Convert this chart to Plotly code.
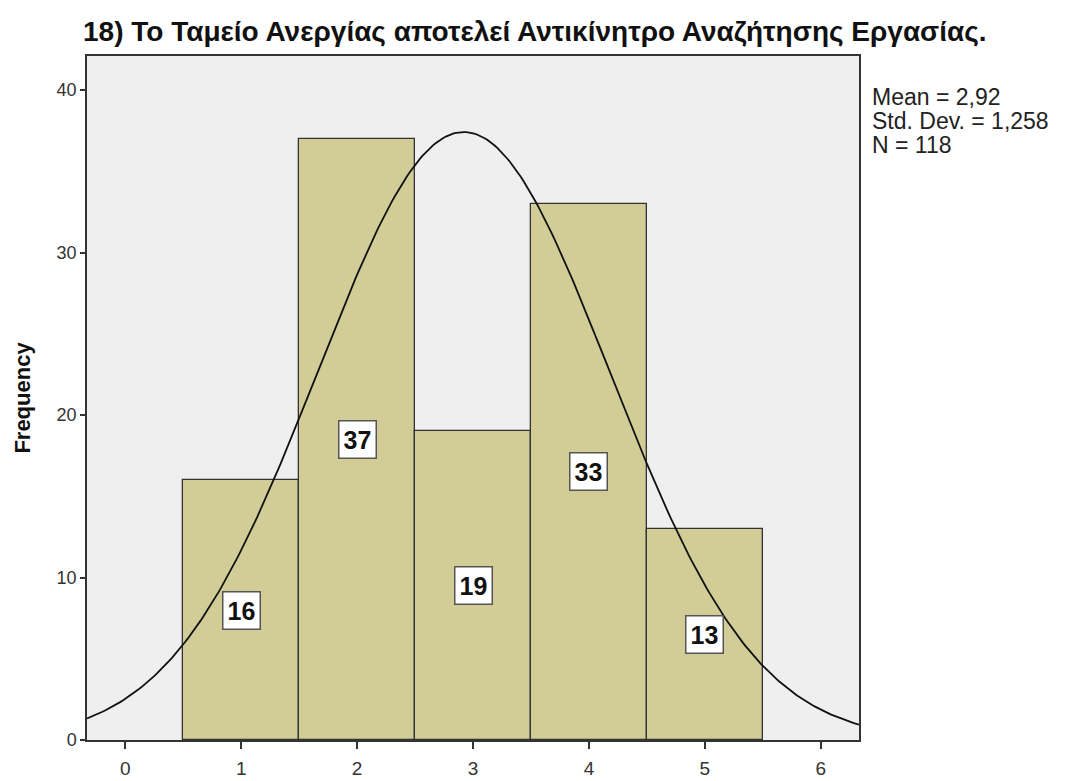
import numpy as np
import plotly.graph_objects as go

# ---------------------------------------------------------------------------
# Data
# ---------------------------------------------------------------------------
categories = [1, 2, 3, 4, 5]
frequencies = [16, 37, 19, 33, 13]

stat_mean = 2.92
stat_sd = 1.258
stat_n = 118

title_text = '18) Το Ταμείο Ανεργίας αποτελεί Αντικίνητρο Αναζήτησης Εργασίας.'
stats_lines = ['Mean = 2,92', 'Std. Dev. = 1,258', 'N = 118']

# normal curve from the printed stats (bin width 1)
curve_x = np.linspace(-0.33, 6.33, 300)
curve_y = stat_n / (stat_sd * np.sqrt(2 * np.pi)) * np.exp(-0.5 * ((curve_x - stat_mean) / stat_sd) ** 2)

FONT = 'Liberation Sans, Arial, sans-serif'
EDGE = '#333333'

# layout in pixels (page has an 8px body margin, so pull everything back by it)
W, H = 1075, 781
PAGE_OFF = 8
M_L, M_T = 87 - PAGE_OFF, 56 - PAGE_OFF
M_R = W - (859 - PAGE_OFF)
M_B = H - (740 - PAGE_OFF)
PLOT_H = H - M_T - M_B

fig = go.Figure()

fig.add_trace(go.Bar(
    x=categories, y=frequencies, width=1,
    marker=dict(color='#d2cd96', line=dict(color=EDGE, width=1.3)),
    hoverinfo='x+y',
))

fig.add_trace(go.Scatter(
    x=curve_x, y=curve_y, mode='lines',
    line=dict(color='#111111', width=1.8),
    hoverinfo='skip',
))

# value labels in white boxes, half way up each bar
for c, f in zip(categories, frequencies):
    fig.add_annotation(
        x=c, y=f / 2, text=f'<b>{f}</b>', showarrow=False,
        font=dict(family=FONT, size=25, color='#111111'),
        bgcolor='white', bordercolor='#555555', borderwidth=1.5, borderpad=4,
    )

# stats block, one line per annotation (tight SPSS line spacing)
for i, line in enumerate(stats_lines):
    py = 96.5 + i * 24 - PAGE_OFF
    fig.add_annotation(
        x=1, xref='paper', xanchor='left', xshift=12,
        y=(H - M_B - py) / PLOT_H, yref='paper', yanchor='middle',
        text=line, align='left', showarrow=False, borderpad=0,
        font=dict(family=FONT, size=23, color='#222222'),
    )

fig.update_layout(
    width=W, height=H,
    paper_bgcolor='white', plot_bgcolor='#efefef',
    margin=dict(l=M_L, r=M_R, t=M_T, b=M_B),
    showlegend=False,
    bargap=0,
    title=dict(
        text=f'<b>{title_text}</b>', x=(83 - PAGE_OFF) / W, xref='container', xanchor='left',
        y=1 - (31 - PAGE_OFF) / H, yref='container', yanchor='middle',
        font=dict(family=FONT, size=28, color='#111111'),
    ),
    font=dict(family=FONT, size=18, color='#333333'),
    xaxis=dict(
        range=[-0.33, 6.33], tickvals=[0, 1, 2, 3, 4, 5, 6],
        showgrid=False, zeroline=False, automargin=False,
        showline=True, mirror=True, linecolor=EDGE, linewidth=1.5,
        ticks='outside', ticklen=7, tickwidth=1.5, tickcolor=EDGE,
        tickfont=dict(size=19), ticklabelstandoff=3,
    ),
    yaxis=dict(
        range=[0, 42.1], tickvals=[0, 10, 20, 30, 40],
        showgrid=False, zeroline=False, automargin=False,
        showline=True, mirror=True, linecolor=EDGE, linewidth=1.5,
        ticks='outside', ticklen=5, tickwidth=1.5, tickcolor=EDGE,
        title=dict(text='<b>Frequency</b>', font=dict(family=FONT, size=22, color='#111111'),
                   standoff=20),
    ),
)

fig.write_html('out.html')
